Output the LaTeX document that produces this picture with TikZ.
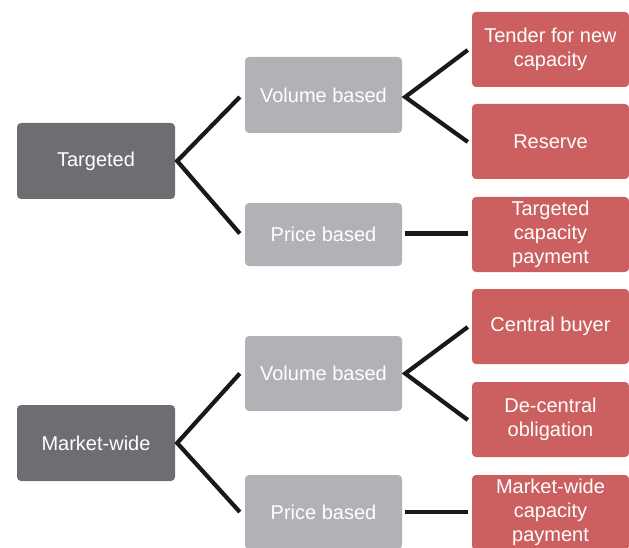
\documentclass[tikz,border=0pt]{standalone}
\usepackage{fontspec}
\setmainfont{Liberation Sans}
\usetikzlibrary{calc}
\definecolor{darkbox}{RGB}{109,110,113}
\definecolor{lightbox}{RGB}{177,178,182}
\definecolor{redbox}{RGB}{204,96,96}
\begin{document}
\begin{tikzpicture}[x=1pt,y=-1pt,
  box/.style={rounded corners=4pt, text=white, align=center,
    font=\fontsize{20pt}{24pt}\selectfont, inner sep=0pt},
  topbox/.style={box, fill=darkbox, minimum width=158pt, minimum height=76pt},
  midbox/.style={box, fill=lightbox, minimum width=157pt},
  leafbox/.style={box, fill=redbox, minimum width=157pt, minimum height=75pt},
  conn/.style={line width=4.2pt, draw=black!90, line join=miter}]
\useasboundingbox (0,0) rectangle (629,548);

% first level
\node[topbox] (tgt) at (96,161) {Targeted};
\node[topbox] (mkt) at (96,443) {Market-wide};

% second level
\node[midbox, minimum height=76pt] (vol1) at (323.5,95) {Volume based};
\node[midbox, minimum height=63pt] (pri1) at (323.5,234.5) {Price based};
\node[midbox, minimum height=75pt] (vol2) at (323.5,373.5) {Volume based};
\node[midbox, minimum height=74pt] (pri2) at (323.5,512) {Price based};

% mechanisms
\node[leafbox] (tender) at (550.5,49.5) {Tender for new\\capacity};
\node[leafbox] (reserve) at (550.5,141.5) {Reserve};
\node[leafbox] (tcp) at (550.5,234.5) {Targeted\\capacity\\payment};
\node[leafbox] (cbuy) at (550.5,326.5) {Central buyer};
\node[leafbox] (dco) at (550.5,419.5) {De-central\\obligation};
\node[leafbox] (mcp) at (550.5,512.5) {Market-wide\\capacity\\payment};

% branches
\draw[conn] ($(vol1.west)+(-5,2)$) -- ($(tgt.east)+(2,0)$) -- ($(pri1.west)+(-5,-1)$);
\draw[conn] ($(vol2.west)+(-5,0)$) -- ($(mkt.east)+(2,0)$) -- ($(pri2.west)+(-5,0)$);
\draw[conn] ($(tender.west)+(-4,0.5)$) -- ($(vol1.east)+(3,2)$) -- ($(reserve.west)+(-4,0.5)$);
\draw[conn] ($(cbuy.west)+(-4,0.5)$) -- ($(vol2.east)+(3,0)$) -- ($(dco.west)+(-4,0.5)$);
\draw[conn] ($(pri1.east)+(3,-1)$) -- ($(tcp.west)+(-4,-1)$);
\draw[conn] ($(pri2.east)+(3,0)$) -- ($(mcp.west)+(-4,-0.5)$);
\end{tikzpicture}
\end{document}
